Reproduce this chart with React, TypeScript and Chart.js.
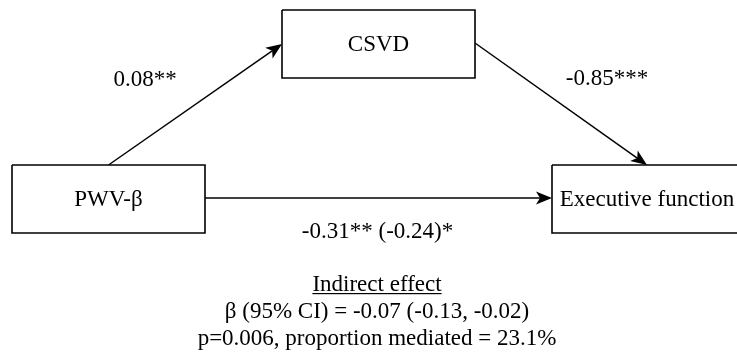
import React, { useEffect, useRef } from "react";
import { Chart, registerables } from "chart.js";

Chart.register(...registerables);

// ---- content ----
const nodeNames = ["PWV-β", "CSVD", "Executive function"];
const pathLabels = ["0.08**", "-0.85***", "-0.31** (-0.24)*"];
const indirectTitle = "Indirect effect";
const indirectLines = [
  "β (95% CI) = -0.07 (-0.13, -0.02)",
  "p=0.006, proportion mediated = 23.1%",
];
// edges: from node -> to node
const edgeFrom = [0, 1, 0];
const edgeTo = [1, 2, 2];

// ---- layout (data units of a 737 x 356 frame) ----
const FRAME_W = 737;
const FRAME_H = 356;
const boxCX = [108.5, 378.5, 647];
const boxCY = [199, 44, 199];
const boxW = [193, 193, 190];
const boxH = 68;
const edgeFromSide = ["top", "right", "right"];
const edgeToSide = ["left", "top", "left"];
const edgeOffsetY = [0, -1, -1];
const labelX = [145, 607, 377.5];
const labelY = [86, 85, 238];
const noteX = 377;
const noteY = [291, 318, 345];
const FONT = "23px 'Liberation Serif', 'Times New Roman', serif";
const HEAD_LEN = 16;
const HEAD_HALF = 6.5;
const HEAD_NOTCH = 4;

type P = { x: number; y: number };

function anchor(node: number, side: string, dy: number): P {
  const cx = boxCX[node];
  const cy = boxCY[node] + dy;
  const hw = boxW[node] / 2;
  const hh = boxH / 2;
  if (side === "top") return { x: cx, y: boxCY[node] - hh };
  if (side === "bottom") return { x: cx, y: boxCY[node] + hh };
  if (side === "left") return { x: cx - hw, y: cy };
  return { x: cx + hw, y: cy };
}

function edgePoints(i: number): [P, P] {
  const a = anchor(edgeFrom[i], edgeFromSide[i], edgeOffsetY[i]);
  const b = anchor(edgeTo[i], edgeToSide[i], edgeOffsetY[i]);
  return [a, b];
}

export default function App() {
  const ref = useRef<HTMLCanvasElement | null>(null);

  useEffect(() => {
    document.body.style.margin = "0";
    const canvas = ref.current;
    if (!canvas) return;

    const boxDatasets = nodeNames.map((_, i) => {
      const l = boxCX[i] - boxW[i] / 2;
      const r = boxCX[i] + boxW[i] / 2;
      const t = boxCY[i] - boxH / 2;
      const b = boxCY[i] + boxH / 2;
      return {
        label: nodeNames[i],
        data: [
          { x: l, y: t },
          { x: r, y: t },
          { x: r, y: b },
          { x: l, y: b },
          { x: l, y: t },
        ],
        showLine: true,
        borderColor: "#000",
        borderWidth: 1.6,
        pointRadius: 0,
        tension: 0,
        borderJoinStyle: "miter" as const,
      };
    });

    const edgeDatasets = pathLabels.map((lab, i) => {
      const [a, b] = edgePoints(i);
      const dx = b.x - a.x;
      const dy = b.y - a.y;
      const len = Math.hypot(dx, dy);
      const end = {
        x: b.x - (dx / len) * (HEAD_LEN - HEAD_NOTCH),
        y: b.y - (dy / len) * (HEAD_LEN - HEAD_NOTCH),
      };
      return {
        label: lab,
        data: [a, end],
        showLine: true,
        borderColor: "#000",
        borderWidth: 1.5,
        pointRadius: 0,
        tension: 0,
      };
    });

    const diagramPlugin = {
      id: "diagram",
      afterDatasetsDraw(chart: any) {
        const ctx = chart.ctx as CanvasRenderingContext2D;
        const xs = chart.scales.x;
        const ys = chart.scales.y;
        const px = (v: number) => xs.getPixelForValue(v);
        const py = (v: number) => ys.getPixelForValue(v);
        ctx.save();
        // arrow heads
        ctx.fillStyle = "#000";
        for (let i = 0; i < pathLabels.length; i++) {
          const [a, b] = edgePoints(i);
          const tx = px(b.x);
          const ty = py(b.y);
          const ang = Math.atan2(py(b.y) - py(a.y), px(b.x) - px(a.x));
          const c = Math.cos(ang);
          const s = Math.sin(ang);
          const bx = tx - c * HEAD_LEN;
          const by = ty - s * HEAD_LEN;
          const nx = tx - c * (HEAD_LEN - HEAD_NOTCH);
          const ny = ty - s * (HEAD_LEN - HEAD_NOTCH);
          ctx.beginPath();
          ctx.moveTo(tx, ty);
          ctx.lineTo(bx - s * HEAD_HALF, by + c * HEAD_HALF);
          ctx.lineTo(nx, ny);
          ctx.lineTo(bx + s * HEAD_HALF, by - c * HEAD_HALF);
          ctx.closePath();
          ctx.fill();
        }
        // texts
        ctx.font = FONT;
        ctx.fillStyle = "#000";
        ctx.textAlign = "center";
        ctx.textBaseline = "middle";
        nodeNames.forEach((n, i) => {
          ctx.fillText(n, px(boxCX[i]), py(boxCY[i]) + 1);
        });
        ctx.textBaseline = "alphabetic";
        pathLabels.forEach((t, i) => {
          ctx.fillText(t, px(labelX[i]), py(labelY[i]));
        });
        ctx.fillText(indirectTitle, px(noteX), py(noteY[0]));
        const w = ctx.measureText(indirectTitle).width;
        ctx.fillRect(px(noteX) - w / 2, py(noteY[0]) + 2, w, 1.2);
        indirectLines.forEach((t, i) => {
          ctx.fillText(t, px(noteX), py(noteY[i + 1]));
        });
        ctx.restore();
      },
    };

    const chart = new Chart(canvas, {
      type: "scatter",
      data: { datasets: [...boxDatasets, ...edgeDatasets] as any },
      options: {
        animation: false,
        responsive: false,
        maintainAspectRatio: false,
        layout: { padding: 0 },
        plugins: { legend: { display: false }, tooltip: { enabled: false } },
        scales: {
          x: { type: "linear", min: 0, max: FRAME_W, display: false },
          y: { type: "linear", min: 0, max: FRAME_H, reverse: true, display: false },
        },
      },
      plugins: [diagramPlugin],
    });
    return () => chart.destroy();
  }, []);

  return (
    <canvas
      ref={ref}
      width={FRAME_W}
      height={FRAME_H}
      style={{ display: "block", width: FRAME_W, height: FRAME_H, background: "#fff" }}
    />
  );
}
